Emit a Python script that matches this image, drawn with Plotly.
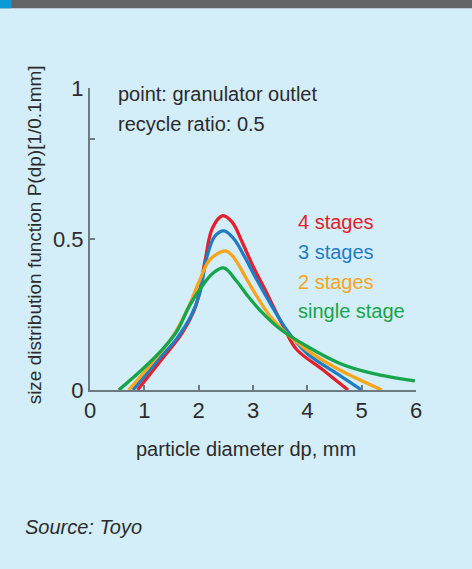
import plotly.graph_objects as go

# Particle size distribution at the granulator outlet (recycle ratio 0.5)
x_4 = [0.875, 1.30, 1.70, 1.95, 2.12, 2.25, 2.44, 2.62, 2.80, 3.00, 3.20, 3.56, 3.80, 4.29, 4.75]
y_4 = [0.0, 0.097, 0.19, 0.28, 0.43, 0.535, 0.577, 0.555, 0.49, 0.41, 0.34, 0.21, 0.135, 0.066, 0.0]

x_3 = [0.79, 1.23, 1.60, 1.87, 2.02, 2.15, 2.30, 2.47, 2.65, 2.85, 3.07, 3.62, 3.99, 4.54, 5.00]
y_3 = [0.0, 0.094, 0.171, 0.249, 0.32, 0.44, 0.51, 0.527, 0.50, 0.44, 0.365, 0.199, 0.122, 0.055, 0.0]

x_2 = [0.71, 1.11, 1.54, 1.80, 2.00, 2.20, 2.49, 2.62, 2.75, 2.89, 3.37, 3.99, 4.60, 5.37]
y_2 = [0.0, 0.083, 0.182, 0.27, 0.355, 0.43, 0.461, 0.445, 0.41, 0.365, 0.232, 0.133, 0.066, 0.0]

x_1 = [0.53, 0.985, 1.35, 1.60, 1.84, 2.05, 2.25, 2.46, 2.70, 2.90, 3.13, 3.50, 4.00, 4.60, 5.20, 5.98]
y_1 = [0.0, 0.072, 0.138, 0.195, 0.282, 0.34, 0.385, 0.404, 0.36, 0.312, 0.264, 0.202, 0.144, 0.088, 0.055, 0.03]

series = [
    ("4 stages", x_4, y_4, "#E3202C"),
    ("3 stages", x_3, y_3, "#1F7CC3"),
    ("2 stages", x_2, y_2, "#F8A51C"),
    ("single stage", x_1, y_1, "#16A54B"),
]

x_ticks = [0, 1, 2, 3, 4, 5, 6]
y_ticks = [0, 0.5, 0.83, 1]
y_tick_text = ["0", "0.5", "", "1"]

BG = "#D3EDF9"
AXIS = "#6E7A82"
TEXT = "#2B2B2B"
SANS = "Liberation Sans, Arial, sans-serif"

fig = go.Figure()
for name, xs, ys, color in series:
    fig.add_trace(go.Scatter(
        x=xs, y=ys, mode="lines", name=name,
        line=dict(color=color, width=3.3, shape="spline", smoothing=1.0),
        showlegend=False,
    ))

# Series labels at the right of the peaks
label_y = [0.555, 0.457, 0.358, 0.26]
for (name, _, _, color), ly in zip(series, label_y):
    fig.add_annotation(
        x=3.8, y=ly, xref="x", yref="y", text=name, showarrow=False,
        xanchor="left", yanchor="middle",
        font=dict(family=SANS, size=20, color=color),
    )

# Condition notes in the upper left
fig.add_annotation(x=0.47, y=0.98, xref="x", yref="y", text="point: granulator outlet",
                   showarrow=False, xanchor="left", yanchor="middle",
                   font=dict(family=SANS, size=20, color=TEXT))
fig.add_annotation(x=0.47, y=0.88, xref="x", yref="y", text="recycle ratio: 0.5",
                   showarrow=False, xanchor="left", yanchor="middle",
                   font=dict(family=SANS, size=20, color=TEXT))

fig.add_annotation(x=-0.17, y=0.514, xref="paper", yref="paper",
                   text="size distribution function P(dp)[1/0.1mm]",
                   textangle=-90, showarrow=False, xanchor="center", yanchor="middle",
                   font=dict(family=SANS, size=19, color=TEXT))
fig.add_annotation(x=0.48, y=-0.195, xref="paper", yref="paper",
                   text="particle diameter dp, mm", showarrow=False,
                   xanchor="center", yanchor="middle",
                   font=dict(family=SANS, size=20, color=TEXT))
fig.add_annotation(x=-0.205, y=-0.455, xref="paper", yref="paper",
                   text="<i>Source: Toyo</i>", showarrow=False,
                   xanchor="left", yanchor="middle",
                   font=dict(family=SANS, size=20, color=TEXT))

# Header bar with a blue corner block
fig.add_shape(type="rect", xref="paper", yref="paper", x0=-0.3, x1=1.2, y0=1.264, y1=1.3,
              fillcolor="#636466", line=dict(width=0), layer="above")
fig.add_shape(type="rect", xref="paper", yref="paper", x0=-0.3, x1=-0.2412, y0=1.264, y1=1.3,
              fillcolor="#0A9AD6", line=dict(width=0), layer="above")

fig.update_xaxes(
    range=[0, 6], tickvals=x_ticks, ticks="inside", ticklen=5, tickwidth=1.5,
    tickcolor=AXIS, showline=True, linecolor=AXIS, linewidth=2, showgrid=False,
    zeroline=False, tickfont=dict(family=SANS, size=22, color=TEXT),
)
fig.update_yaxes(
    range=[0, 1], tickvals=y_ticks, ticktext=y_tick_text, ticks="inside",
    ticklen=5, tickwidth=1.5, tickcolor=AXIS, showline=True, linecolor=AXIS,
    linewidth=2, showgrid=False, zeroline=False,
    tickfont=dict(family=SANS, size=22, color=TEXT),
)
fig.update_layout(
    width=472, height=569,
    margin=dict(l=90, r=56, t=88, b=179),
    paper_bgcolor=BG, plot_bgcolor=BG,
)

fig.write_html("out.html")
